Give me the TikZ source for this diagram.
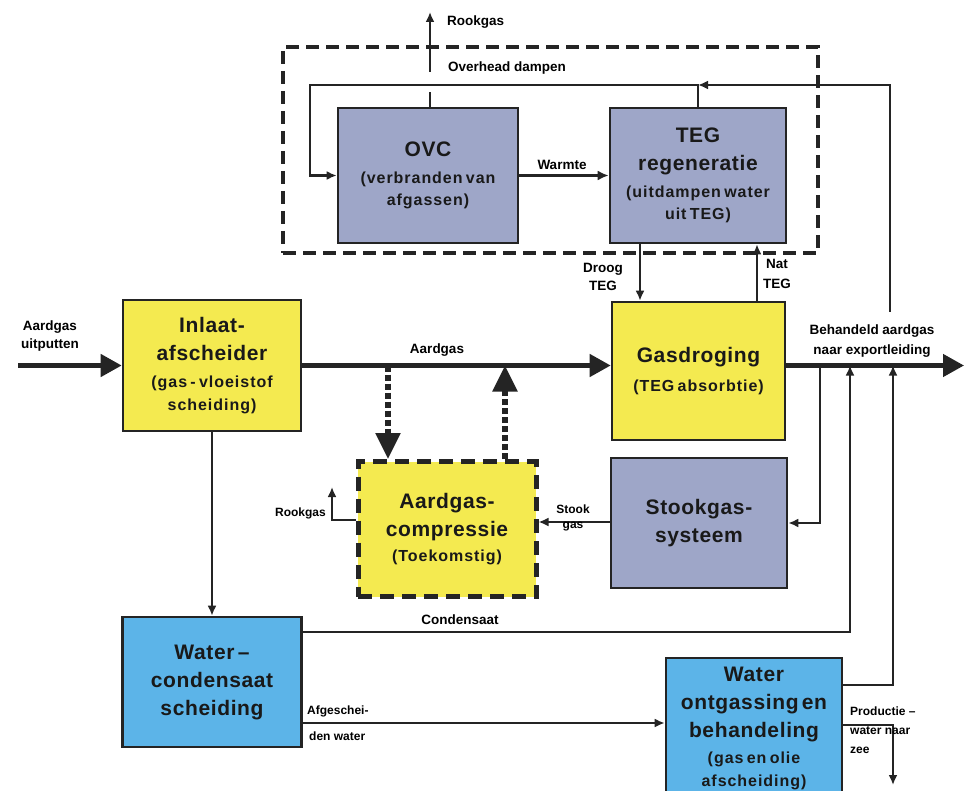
\documentclass[tikz,border=0pt]{standalone}
\usepackage{fontspec}
\setmainfont{Liberation Sans}
\newfontfamily\ttlfam[Ligatures=TeX,LetterSpace=3,WordSpace=1.6]{Liberation Sans}
\newfontfamily\subfam[Ligatures=TeX,LetterSpace=6,WordSpace=1.4]{Liberation Sans}
\usetikzlibrary{arrows.meta}

\definecolor{procyellow}{RGB}{244,234,80}
\definecolor{procgrey}{RGB}{158,166,200}
\definecolor{procblue}{RGB}{92,180,232}
\definecolor{edge}{RGB}{36,36,36}

\newcommand\boxttl{\ttlfam\fontsize{21}{28}\selectfont\bfseries}
\newcommand\boxsub{\subfam\fontsize{16}{22.5}\selectfont}
\newcommand\flowlbl{\fontsize{13.5}{18}\selectfont\bfseries}
\newcommand\smalllbl{\fontsize{12}{15}\selectfont\bfseries}

\tikzset{
  procbox/.style={draw=edge, line width=2.6pt, inner sep=0pt, align=center, text=black!90},
  yellowbox/.style={procbox, fill=procyellow},
  greybox/.style={procbox, fill=procgrey},
  bluebox/.style={procbox, fill=procblue},
  futurebox/.style={yellowbox, line width=5pt, dash pattern=on 14pt off 8pt},
  unitframe/.style={draw=edge, line width=3.5pt, dash pattern=on 13pt off 7pt, inner sep=0pt},
  flow/.style={draw=edge, line width=2.6pt, -{Latex[length=10pt,width=9pt]}},
  heatflow/.style={draw=edge, line width=3.6pt, -{Latex[length=11pt,width=10pt]}},
  mainflow/.style={draw=edge, line width=4.5pt, -{Triangle[length=21pt,width=22pt]}},
  futureflow/.style={draw=edge, line width=5.5pt, dash pattern=on 6pt off 3pt, -{Triangle[length=26pt,width=24pt]}},
  pipe/.style={draw=edge, line width=2.6pt},
  lbl/.style={font=\flowlbl, inner sep=1pt, align=center},
  slbl/.style={font=\smalllbl, inner sep=1pt, align=center},
}

\begin{document}
\begin{tikzpicture}[x=1pt,y=-1pt]
\useasboundingbox (0,0) rectangle (966,791);
\clip (0,0) rectangle (966,791);
\fill[white] (0,0) rectangle (966,791);

% regeneration unit frame
\node[unitframe, minimum width=535, minimum height=206] (regen) at (550.5,150) {};

% process units
\node[yellowbox, minimum width=178, minimum height=131, text width=170] (inlaat) at (212,365.5)
  {\boxttl Inlaat-\\afscheider\par\vspace{5pt}\boxsub (gas - vloeistof\\scheiding)\par};
\node[greybox, minimum width=180, minimum height=135, text width=172] (ovc) at (428,175.5)
  {\boxttl OVC\par\vspace{4pt}\boxsub (verbranden van\\afgassen)\par};
\node[greybox, minimum width=176, minimum height=135, text width=170] (teg) at (698,175.5)
  {\boxttl TEG\\regeneratie\par\vspace{4pt}\boxsub (uitdampen water\\uit TEG)\par};
\node[yellowbox, minimum width=173, minimum height=138, text width=168] (gasdr) at (698.5,371)
  {\boxttl Gasdroging\par\vspace{6pt}\boxsub (TEG absorbtie)\par};
\node[futurebox, minimum width=178, minimum height=135, text width=168] (compr) at (447,529)
  {\boxttl Aardgas-\\compressie\par\vspace{3pt}\boxsub (Toekomstig)\par};
\node[greybox, minimum width=176, minimum height=130, text width=170] (stook) at (699,523)
  {\boxttl Stookgas-\\systeem\par};
\node[bluebox, minimum width=179, minimum height=130, text width=172] (wc) at (212,682)
  {\boxttl Water –\\condensaat\\scheiding\par};
\node[bluebox, minimum width=176, minimum height=140, text width=172] (wo) at (754,728)
  {\boxttl Water\\ontgassing en\\behandeling\par\vspace{4pt}\boxsub (gas en olie\\afscheiding)\par};

% reference points for connector routing
\coordinate (src)    at (18,365.5);
\coordinate (expend) at (964,365.5);
\coordinate (ohL)    at (310,85);
\coordinate (ohfoot) at (890,312);
\coordinate (rkLo)   at (430,92);
\coordinate (rkHi)   at (430,72);
\coordinate (rkTop)  at (430,12);
\coordinate (dry)    at (640,0);
\coordinate (wet)    at (757,0);
\coordinate (cdn)    at (388,0);
\coordinate (cup)    at (505,0);
\coordinate (rkb)    at (332,520);
\coordinate (rkt)    at (332,487);
\coordinate (sgy)    at (0,522);
\coordinate (fx)     at (820,0);
\coordinate (cx)     at (850,0);
\coordinate (cy)     at (0,632);
\coordinate (ox)     at (893,0);
\coordinate (oy)     at (0,685);
\coordinate (py)     at (0,725);
\coordinate (pend)   at (893,785);
\coordinate (ay)     at (0,723);

% main gas path
\draw[mainflow] (src) -- (inlaat.west);
\draw[mainflow] (inlaat.east) -- (inlaat.east -| gasdr.west);
\draw[mainflow] (inlaat.east -| gasdr.east) -- (expend);

% overhead vapours and flue gas
\draw[flow] (teg.north) |- (ohL) |- (ovc.west);
\draw[flow] (ohfoot) |- (teg.north |- ohL);
\draw[pipe] (ovc.north -| rkLo) -- (rkLo);
\draw[flow] (rkHi) -- (rkTop);
\draw[heatflow] (ovc.east) -- (teg.west);

% glycol loop
\draw[flow] (teg.south -| dry) -- (gasdr.north -| dry);
\draw[flow] (gasdr.north -| wet) -- (teg.south -| wet);

% future compression
\draw[futureflow] (inlaat.east -| cdn) -- (compr.north -| cdn);
\draw[futureflow] (compr.north -| cup) -- (inlaat.east -| cup);
\draw[flow] (compr.west |- rkb) -- (rkb) -- (rkt);
\draw[flow] (stook.west |- sgy) -- (compr.east |- sgy);

% fuel gas take-off and returns to export line
\draw[flow] (inlaat.east -| fx) |- (stook.east);
\draw[flow] (wc.east |- cy) -| (inlaat.east -| cx);
\draw[flow] (wo.east |- oy) -| (inlaat.east -| ox);

% water handling
\draw[flow] (inlaat.south) -- (wc.north);
\draw[flow] (wc.east |- ay) -- (wo.west |- ay);
\draw[flow] (wo.east |- py) -| (pend);

% stream labels
\node[lbl] (l-feed) at (50,336) {Aardgas\\uitputten};
\node[lbl] (l-gas) at (437,350) {Aardgas};
\node[lbl] (l-export) at (872,341) {Behandeld aardgas\\[2pt]naar exportleiding};
\node[lbl, anchor=west] (l-flue1) at (446,22) {Rookgas};
\node[lbl, anchor=west] (l-overhead) at (447,68) {Overhead dampen};
\node[lbl] (l-heat) at (562,165) {Warmte};
\node[lbl] (l-dry) at (603,277) {Droog\\TEG};
\node[lbl] (l-wet) at (777,274) {Nat\\[2pt]TEG};
\node[slbl, anchor=east] (l-flue2) at (327,513) {Rookgas};
\node[slbl] (l-fuel) at (573,518) {Stook\\gas};
\node[lbl] (l-cond) at (460,620) {Condensaat};
\node[slbl, anchor=west, fill=white] (l-sep1) at (306,711) {Afgeschei-};
\node[slbl, anchor=west] (l-sep2) at (308,736) {den water};
\node[slbl, anchor=north west, align=left, font=\fontsize{12}{19}\selectfont\bfseries] (l-prod) at (849,706) {Productie –\\water naar\\zee};
\end{tikzpicture}
\end{document}
